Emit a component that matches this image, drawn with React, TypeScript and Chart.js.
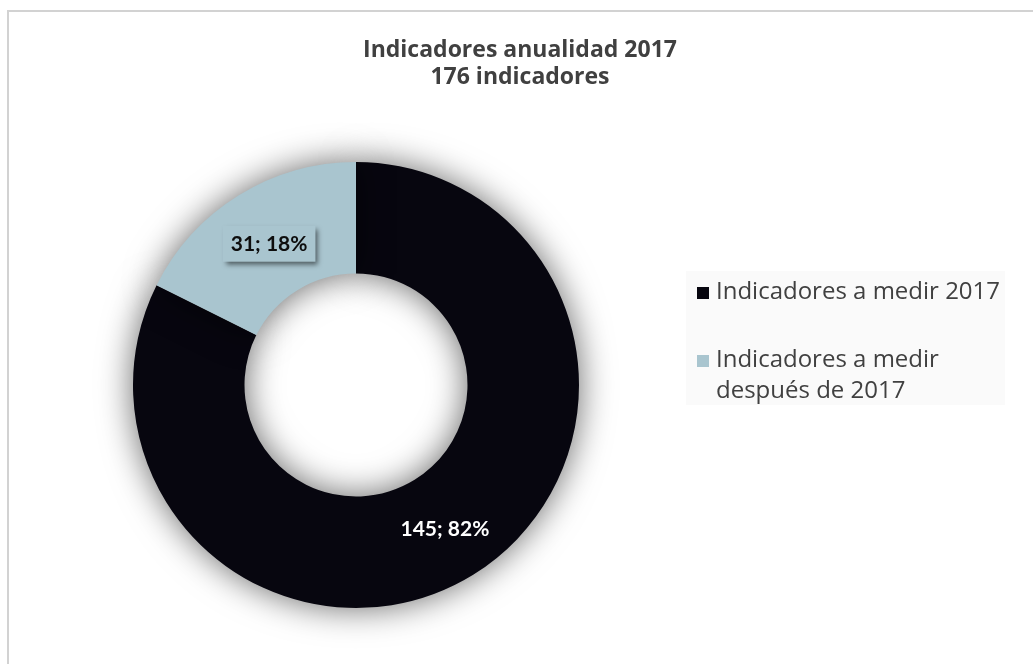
import React, { useEffect, useRef } from 'react';
import { Chart, registerables } from 'chart.js';

Chart.register(...registerables);

const categories = ['Indicadores a medir 2017', 'Indicadores a medir después de 2017'];
const legendLines = [['Indicadores a medir 2017'], ['Indicadores a medir', 'después de 2017']];
const values = [145, 31];
const colors = ['#07060f', '#a9c5cf'];
const labelBoxes = [false, true];
const titleLines = ['Indicadores anualidad 2017', '176 indicadores'];

const W = 1033;
const H = 664;

const framePlugin = {
  id: 'frame',
  beforeDraw(chart: any) {
    const ctx = chart.ctx;
    ctx.save();
    ctx.fillStyle = '#ffffff';
    ctx.fillRect(0, 0, chart.width, chart.height);
    ctx.fillStyle = '#d2d2d2';
    ctx.fillRect(7, 10, 2, chart.height - 10);
    ctx.fillRect(7, 10, chart.width - 7, 2);
    ctx.restore();
  },
};

const titlePlugin = {
  id: 'customTitle',
  afterDraw(chart: any) {
    const ctx = chart.ctx;
    ctx.save();
    ctx.fillStyle = '#404040';
    ctx.font = 'bold 23px "Open Sans"';
    ctx.textAlign = 'center';
    ctx.textBaseline = 'alphabetic';
    titleLines.forEach((t, i) => ctx.fillText(t, 520, 57 + i * 27));
    ctx.restore();
  },
};

const shadowPlugin = {
  id: 'ringShadow',
  beforeDatasetsDraw(chart: any) {
    const ctx = chart.ctx;
    ctx.save();
    ctx.shadowColor = 'rgba(0,0,0,0.6)';
    ctx.shadowBlur = 34;
    ctx.shadowOffsetX = 0;
    ctx.shadowOffsetY = 0;
  },
  afterDatasetsDraw(chart: any) {
    chart.ctx.restore();
  },
};

const labelPlugin = {
  id: 'sliceLabels',
  afterDatasetsDraw(chart: any) {
    const ctx = chart.ctx;
    const meta = chart.getDatasetMeta(0);
    const data = chart.data.datasets[0].data as number[];
    const total = data.reduce((a, b) => a + b, 0);
    ctx.save();
    ctx.font = 'bold 21px Lato';
    ctx.textAlign = 'center';
    ctx.textBaseline = 'middle';
    meta.data.forEach((arc: any, i: number) => {
      const p = arc.tooltipPosition();
      const x = p.x + 1;
      const y = p.y + 1;
      const text = `${data[i]}; ${Math.round((data[i] / total) * 100)}%`;
      if (labelBoxes[i]) {
        const tw = ctx.measureText(text).width;
        const bw = tw + 16;
        const bh = 36;
        ctx.save();
        ctx.shadowColor = 'rgba(0,0,0,0.55)';
        ctx.shadowBlur = 5;
        ctx.shadowOffsetX = 3;
        ctx.shadowOffsetY = 3;
        ctx.fillStyle = colors[i];
        ctx.fillRect(x - bw / 2, y - bh / 2, bw, bh);
        ctx.restore();
      }
      ctx.fillStyle = i === 0 ? '#ffffff' : '#0d0d0d';
      ctx.fillText(text, x, y + 1);
    });
    ctx.restore();
  },
};

const legendPlugin = {
  id: 'sideLegend',
  afterDraw(chart: any) {
    const ctx = chart.ctx;
    const bg = chart.data.datasets[0].backgroundColor as string[];
    ctx.save();
    ctx.fillStyle = '#fafafa';
    ctx.fillRect(686, 271, 319, 134);
    ctx.font = '24px "Open Sans"';
    ctx.textAlign = 'left';
    ctx.textBaseline = 'alphabetic';
    const starts = [299, 367];
    legendLines.forEach((lines, i) => {
      const base = starts[i];
      ctx.fillStyle = bg[i];
      ctx.fillRect(697, base - 12, 12, 12);
      ctx.fillStyle = '#404040';
      lines.forEach((ln, j) => ctx.fillText(ln, 716, base + j * 31));
    });
    ctx.restore();
  },
};

export default function App() {
  const ref = useRef<HTMLCanvasElement>(null);
  useEffect(() => {
    document.body.style.margin = '0';
    if (!ref.current) return;
    const chart = new Chart(ref.current, {
      type: 'doughnut',
      data: {
        labels: categories,
        datasets: [
          {
            data: values,
            backgroundColor: colors,
            borderWidth: 0,
          },
        ],
      },
      options: {
        responsive: false,
        animation: false,
        devicePixelRatio: 1,
        cutout: '50%',
        layout: { padding: { left: 133, right: W - 579, top: 162, bottom: H - 608 } },
        plugins: {
          legend: { display: false },
          title: { display: false },
          tooltip: { enabled: false },
        },
      },
      plugins: [framePlugin, shadowPlugin, labelPlugin, titlePlugin, legendPlugin],
    });
    return () => chart.destroy();
  }, []);
  return (
    <div style={{ width: W, height: H, position: 'relative' }}>
      <canvas ref={ref} width={W} height={H} style={{ display: 'block' }} />
    </div>
  );
}
